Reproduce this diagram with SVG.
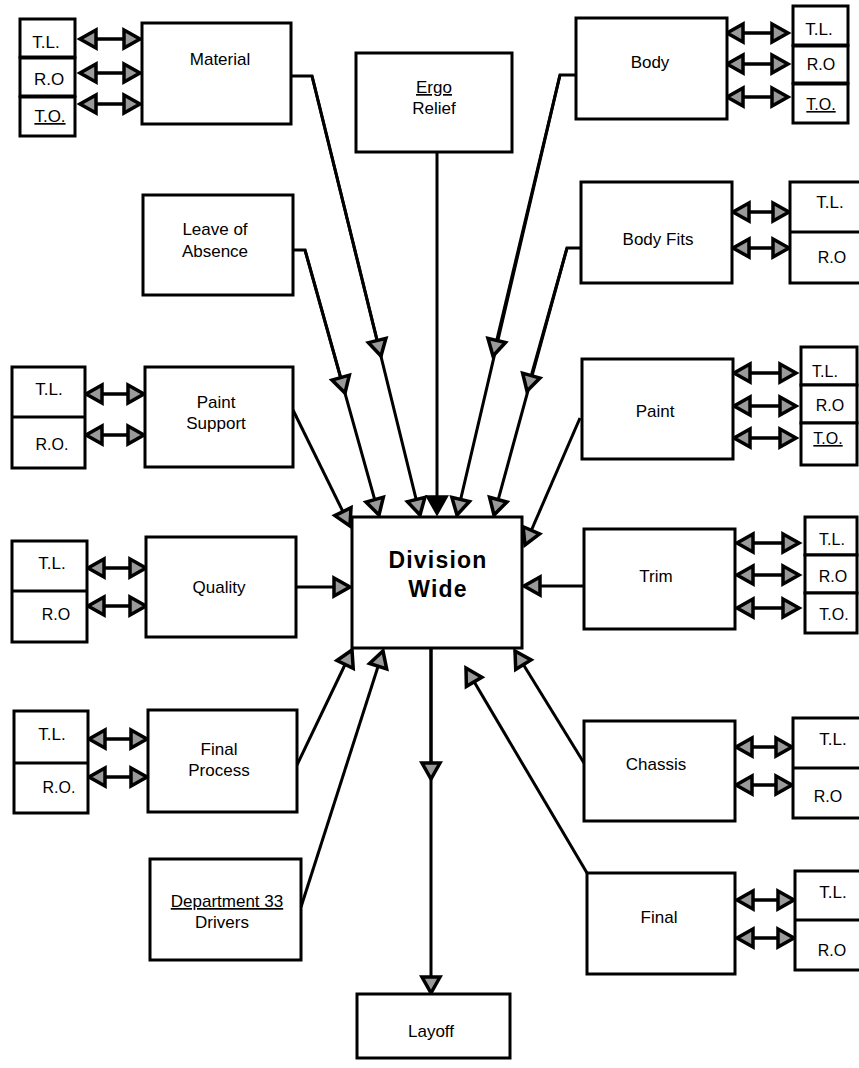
<svg xmlns="http://www.w3.org/2000/svg" width="859" height="1068" viewBox="0 0 859 1068">
<defs>
<style>
.box{fill:#fff;stroke:#000;stroke-width:3}
.ln{fill:none;stroke:#000;stroke-width:3}
.t{font-family:"Liberation Sans",Arial,sans-serif;font-size:17px;fill:#000;text-anchor:middle}
.s{font-family:"Liberation Sans",Arial,sans-serif;font-size:16px;fill:#000;text-anchor:middle}
.b{font-family:"Liberation Sans",Arial,sans-serif;font-size:23px;font-weight:bold;letter-spacing:1.2px;fill:#000;text-anchor:middle}
.u{text-decoration:underline}
.dbl{fill:none;stroke:#000;stroke-width:3.5;marker-start:url(#ah);marker-end:url(#ah)}
.one{fill:none;stroke:#000;stroke-width:3;marker-end:url(#ah)}
</style>
<marker id="ah" viewBox="0 0 22 24" refX="19" refY="12" markerWidth="22" markerHeight="24" markerUnits="userSpaceOnUse" orient="auto-start-reverse" overflow="visible">
<path d="M3,3 L19,12 L3,21 Z" fill="#9a9a9a" stroke="#000" stroke-width="3.5"/>
</marker>
<marker id="ahb" viewBox="0 0 22 24" refX="19" refY="12" markerWidth="22" markerHeight="24" markerUnits="userSpaceOnUse" orient="auto" overflow="visible">
<path d="M3,3 L19,12 L3,21 Z" fill="#000" stroke="#000" stroke-width="3.5"/>
</marker>
</defs>
<rect width="859" height="1068" fill="#fff"/>

<g id="connectors">
<!-- Material -->
<polyline class="one" points="291,76 312,76 420,515"/>
<path class="one" d="M312,76 L381,356"/>
<!-- Leave of Absence -->
<polyline class="one" points="293,250 305,250 379,515"/>
<path class="one" d="M305,250 L345,393"/>
<!-- Ergo -->
<path class="ln" d="M437,152 L437,513" marker-end="url(#ahb)"/>
<!-- Body -->
<polyline class="one" points="576,75 560,75 457,515"/>
<path class="one" d="M560,75 L493,356"/>
<!-- Body Fits -->
<polyline class="one" points="581,248 567,248 494,515"/>
<path class="one" d="M567,248 L527,391"/>
<!-- Paint -->
<path class="one" d="M580,418 L525,545"/>
<!-- Trim -->
<path class="one" d="M584,586 L524,586"/>
<!-- Paint Support -->
<path class="one" d="M293,410 L350,526"/>
<!-- Quality -->
<path class="one" d="M296,587 L350,587"/>
<!-- Final Process -->
<path class="one" d="M297,765 L352,650"/>
<!-- Department 33 -->
<path class="one" d="M301,907 L383,651"/>
<!-- Chassis -->
<path class="one" d="M584,763 L515,651"/>
<!-- Final -->
<path class="one" d="M587,873 L466,668"/>
<!-- Layoff -->
<path class="one" d="M431,648 L431,993"/>
<path class="one" d="M431,648 L431,779"/>
<!-- double arrows -->
<path class="dbl" d="M80,39 L140,39"/>
<path class="dbl" d="M80,73 L140,73"/>
<path class="dbl" d="M80,104 L140,104"/>
<path class="dbl" d="M727,33 L788,33"/>
<path class="dbl" d="M727,64 L788,64"/>
<path class="dbl" d="M727,97 L788,97"/>
<path class="dbl" d="M733,212 L789,212"/>
<path class="dbl" d="M733,248 L789,248"/>
<path class="dbl" d="M86,394 L144,394"/>
<path class="dbl" d="M86,435 L144,435"/>
<path class="dbl" d="M734,373 L796,373"/>
<path class="dbl" d="M734,406 L796,406"/>
<path class="dbl" d="M734,438 L796,438"/>
<path class="dbl" d="M88,568 L146,568"/>
<path class="dbl" d="M88,606 L146,606"/>
<path class="dbl" d="M737,543 L799,543"/>
<path class="dbl" d="M737,575 L799,575"/>
<path class="dbl" d="M737,608 L799,608"/>
<path class="dbl" d="M89,739 L147,739"/>
<path class="dbl" d="M89,777 L147,777"/>
<path class="dbl" d="M736,747 L792,747"/>
<path class="dbl" d="M736,785 L792,785"/>
<path class="dbl" d="M737,900 L794,900"/>
<path class="dbl" d="M737,938 L794,938"/>
</g>

<g id="material">
<rect class="box" x="142" y="23" width="149" height="101"/>
<text class="t" x="220" y="65">Material</text>
</g>
<g id="material-stack">
<rect class="box" x="20" y="19" width="55" height="38"/>
<rect class="box" x="20" y="58" width="55" height="38"/>
<rect class="box" x="20" y="97" width="55" height="39"/>
<text class="t" x="46" y="48">T.L.</text>
<text class="t" x="49" y="85">R.O</text>
<text class="t u" x="50" y="122">T.O.</text>
</g>

<g id="ergo">
<rect class="box" x="356" y="53" width="156" height="99"/>
<text class="t u" x="434" y="93">Ergo</text>
<text class="t" x="434" y="114">Relief</text>
</g>

<g id="body">
<rect class="box" x="576" y="18" width="151" height="101"/>
<text class="t" x="650" y="68">Body</text>
</g>
<g id="body-stack">
<rect class="box" x="793" y="6" width="55" height="39"/>
<rect class="box" x="793" y="46" width="55" height="37"/>
<rect class="box" x="793" y="84" width="55" height="39"/>
<text class="t" x="819" y="35">T.L.</text>
<text class="s" x="821" y="70">R.O</text>
<text class="s u" x="821" y="110">T.O.</text>
</g>

<g id="leave">
<rect class="box" x="143" y="195" width="150" height="100"/>
<text class="t" x="215" y="235">Leave of</text>
<text class="t" x="215" y="257">Absence</text>
</g>

<g id="bodyfits">
<rect class="box" x="581" y="182" width="151" height="101"/>
<text class="t" x="658" y="245">Body Fits</text>
</g>
<g id="bodyfits-stack">
<rect class="box" x="790" y="182" width="80" height="101"/>
<line class="ln" x1="790" y1="232" x2="870" y2="232"/>
<text class="t" x="830" y="208">T.L.</text>
<text class="s" x="832" y="263">R.O</text>
</g>

<g id="paintsupport">
<rect class="box" x="145" y="367" width="148" height="100"/>
<text class="t" x="216" y="408">Paint</text>
<text class="t" x="216" y="429">Support</text>
</g>
<g id="paintsupport-stack">
<rect class="box" x="12" y="367" width="73" height="101"/>
<line class="ln" x1="12" y1="417" x2="85" y2="417"/>
<text class="t" x="49" y="395">T.L.</text>
<text class="s" x="52" y="450">R.O.</text>
</g>

<g id="paint">
<rect class="box" x="582" y="359" width="151" height="100"/>
<text class="t" x="655" y="417">Paint</text>
</g>
<g id="paint-stack">
<rect class="box" x="801" y="347" width="56" height="38"/>
<rect class="box" x="801" y="385" width="56" height="38"/>
<rect class="box" x="801" y="423" width="56" height="42"/>
<text class="s" x="825" y="377">T.L.</text>
<text class="s" x="830" y="411">R.O</text>
<text class="s u" x="828" y="444">T.O.</text>
</g>

<g id="division">
<rect class="box" x="352" y="517" width="170" height="131"/>
<text class="b" x="438" y="568">Division</text>
<text class="b" x="438" y="597">Wide</text>
</g>

<g id="quality">
<rect class="box" x="146" y="537" width="150" height="100"/>
<text class="t" x="219" y="593">Quality</text>
</g>
<g id="quality-stack">
<rect class="box" x="12" y="541" width="75" height="101"/>
<line class="ln" x1="12" y1="591" x2="87" y2="591"/>
<text class="t" x="52" y="569">T.L.</text>
<text class="s" x="56" y="620">R.O</text>
</g>

<g id="trim">
<rect class="box" x="584" y="529" width="151" height="100"/>
<text class="t" x="656" y="582">Trim</text>
</g>
<g id="trim-stack">
<rect class="box" x="805" y="517" width="52" height="38"/>
<rect class="box" x="805" y="555" width="52" height="38"/>
<rect class="box" x="805" y="593" width="52" height="40"/>
<text class="s" x="832" y="545">T.L.</text>
<text class="s" x="833" y="582">R.O</text>
<text class="s" x="834" y="620">T.O.</text>
</g>

<g id="finalprocess">
<rect class="box" x="148" y="710" width="149" height="102"/>
<text class="t" x="219" y="755">Final</text>
<text class="t" x="219" y="776">Process</text>
</g>
<g id="finalprocess-stack">
<rect class="box" x="14" y="711" width="74" height="102"/>
<line class="ln" x1="14" y1="763" x2="88" y2="763"/>
<text class="t" x="52" y="740">T.L.</text>
<text class="s" x="59" y="793">R.O.</text>
</g>

<g id="chassis">
<rect class="box" x="584" y="721" width="151" height="100"/>
<text class="t" x="656" y="770">Chassis</text>
</g>
<g id="chassis-stack">
<rect class="box" x="793" y="718" width="80" height="100"/>
<line class="ln" x1="793" y1="768" x2="873" y2="768"/>
<text class="t" x="833" y="745">T.L.</text>
<text class="s" x="828" y="802">R.O</text>
</g>

<g id="dept33">
<rect class="box" x="150" y="859" width="151" height="101"/>
<text class="t u" x="227" y="907">Department 33</text>
<text class="t" x="222" y="928">Drivers</text>
</g>

<g id="final">
<rect class="box" x="587" y="873" width="148" height="101"/>
<text class="t" x="659" y="923">Final</text>
</g>
<g id="final-stack">
<rect class="box" x="795" y="871" width="80" height="99"/>
<line class="ln" x1="795" y1="920" x2="875" y2="920"/>
<text class="t" x="833" y="898">T.L.</text>
<text class="s" x="832" y="956">R.O</text>
</g>

<g id="layoff">
<rect class="box" x="357" y="994" width="153" height="64"/>
<text class="t" x="431" y="1037">Layoff</text>
</g>
</svg>
